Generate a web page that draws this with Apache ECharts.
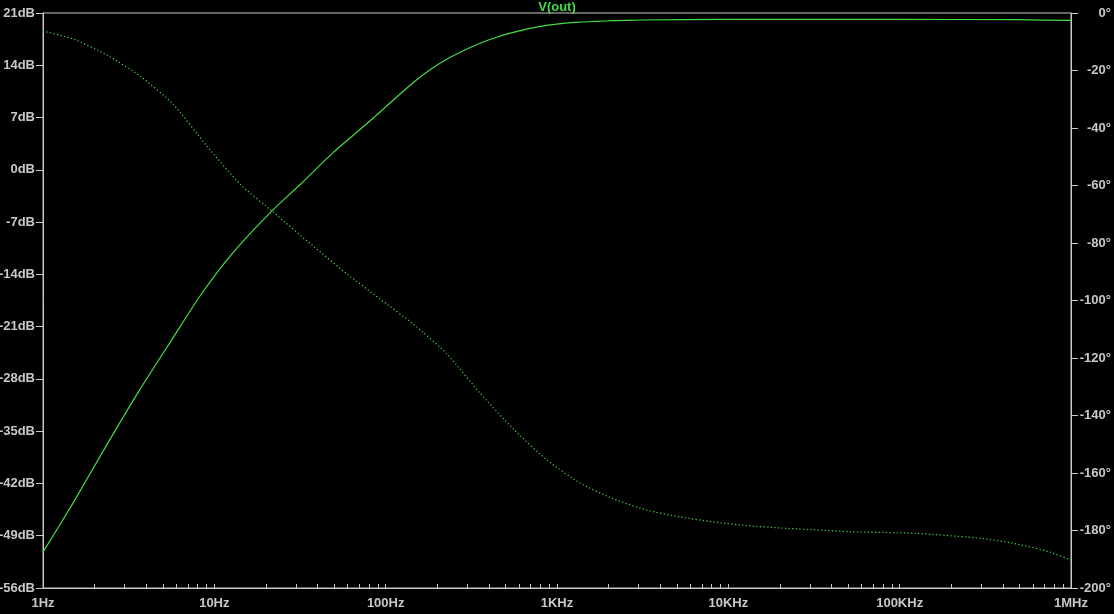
<!DOCTYPE html>
<html>
<head>
<meta charset="utf-8">
<script src="https://cdn.jsdelivr.net/npm/echarts@6/dist/echarts.min.js"></script>
<style>
  html, body { margin: 0; padding: 0; background: #000; }
  #chart { width: 1114px; height: 614px; }
</style>
</head>
<body>
<div id="chart"></div>
<script>
// frequency labels on the log axis (one per decade)
var freqLabels = ["1Hz", "10Hz", "100Hz", "1KHz", "10KHz", "100KHz", "1MHz"];

// magnitude trace (dB)
var magFreq = [1, 1.5, 2.36, 3.68, 5.74, 8.25, 12.85, 21.7, 31.6, 49.3, 77.8, 92.7, 116, 145, 181.5, 227, 284, 355, 444, 556, 695, 871, 1088, 1362, 1706, 2133, 3050, 10000, 100000, 480000, 1000000];
var magDb = [-51.2, -44.6, -36.8, -29.4, -22.5, -16.9, -11.1, -5.5, -2.0, 2.3, 6.2, 7.75, 9.75, 11.7, 13.4, 14.8, 15.95, 16.95, 17.75, 18.4, 18.95, 19.35, 19.62, 19.79, 19.88, 19.97, 20.06, 20.15, 20.15, 20.1, 20.0];

// phase trace (degrees)
var phFreq = [1, 1.5, 2.36, 3.68, 5.74, 9.06, 14.1, 22.0, 37.6, 59.5, 92.7, 145, 228, 355, 556, 874, 1362, 2133, 3350, 5220, 8140, 12800, 19900, 51300, 126000, 306000, 484000, 754000, 1000000];
var phDeg = [-6.3, -9.0, -14.6, -21.9, -31.7, -46.3, -59.5, -69.2, -81.0, -90.8, -99.5, -108.2, -118.6, -132.2, -144.7, -155.5, -163.5, -169.0, -172.9, -175.3, -177.0, -178.3, -179.1, -180.4, -181.0, -182.8, -184.7, -187.5, -190.3];

var traceColor = "#44dd44";
var axisColor = "#c8c8c8";
var labelFont = { color: axisColor, fontSize: 13, fontWeight: "bold", fontFamily: "Liberation Sans, Arial, sans-serif" };

var magData = magFreq.map(function (f, i) { return [f, magDb[i]]; });
var phData = phFreq.map(function (f, i) { return [f, phDeg[i]]; });

var chart = echarts.init(document.getElementById("chart"));
chart.setOption({
  backgroundColor: "#000",
  animation: false,
  title: {
    text: "V(out)",
    left: "center",
    top: -4,
    textStyle: { color: traceColor, fontSize: 13, fontWeight: "bold", fontFamily: "Liberation Sans, Arial, sans-serif" }
  },
  grid: {
    left: 43, right: 43, top: 13, bottom: 26,
    outerBoundsMode: "none",
    containLabel: false,
    show: true, borderColor: axisColor, borderWidth: 1, backgroundColor: "#000"
  },
  xAxis: {
    type: "log",
    logBase: 10,
    min: 1,
    max: 1000000,
    axisLine: { onZero: false, lineStyle: { color: axisColor, width: 1 } },
    axisTick: { show: true, inside: true, length: 4, lineStyle: { color: axisColor } },
    minorTick: { show: true, splitNumber: 9, length: 4, lineStyle: { color: axisColor } },
    splitLine: { show: false },
    axisLabel: Object.assign({
      margin: 9,
      formatter: function (v) {
        return freqLabels[Math.round(Math.log10(v))] || "";
      }
    }, labelFont)
  },
  yAxis: [
    {
      type: "value",
      min: -56,
      max: 21,
      interval: 7,
      position: "left",
      axisLine: { show: true, lineStyle: { color: axisColor } },
      axisTick: { show: true, length: 7, lineStyle: { color: axisColor } },
      splitLine: { show: false },
      axisLabel: Object.assign({ margin: 8, formatter: "{value}dB" }, labelFont)
    },
    {
      type: "value",
      min: -200,
      max: 0,
      interval: 20,
      position: "right",
      axisLine: { show: true, lineStyle: { color: axisColor } },
      axisTick: { show: true, length: 7, lineStyle: { color: axisColor } },
      splitLine: { show: false },
      axisLabel: Object.assign({ margin: 40, align: "right", formatter: "{value}°" }, labelFont)
    }
  ],
  series: [
    {
      name: "magnitude",
      type: "line",
      yAxisIndex: 0,
      data: magData,
      smooth: 0.2,
      showSymbol: false,
      lineStyle: { color: traceColor, width: 1.2 }
    },
    {
      name: "phase",
      type: "line",
      yAxisIndex: 1,
      data: phData,
      smooth: 0.2,
      showSymbol: false,
      lineStyle: { color: traceColor, width: 1.2, type: [1.2, 2.4] }
    }
  ]
});
</script>
</body>
</html>
